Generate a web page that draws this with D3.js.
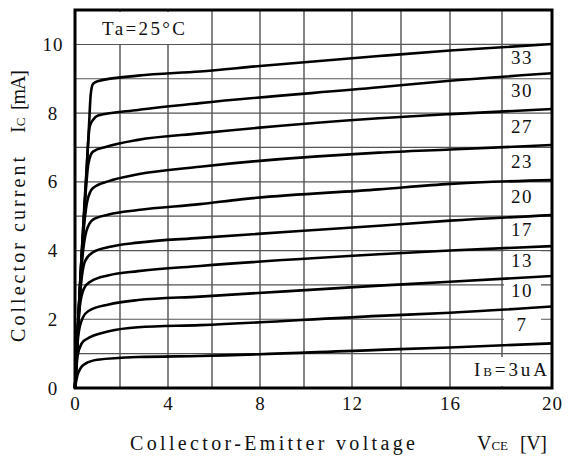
<!DOCTYPE html>
<html>
<head>
<meta charset="utf-8">
<script src="https://cdn.jsdelivr.net/npm/d3@7/dist/d3.min.js"></script>
<style>
  body { margin: 0; background: #fff; }
  svg text { font-family: "Liberation Serif", "DejaVu Serif", serif; fill: #111; }
</style>
</head>
<body>
<div id="graph"></div>
<script>
// base current of each curve [uA], bottom to top
var baseCurrents = [3, 7, 10, 13, 17, 20, 23, 27, 30, 33];

// [Vce (V), Ic (mA)]
var ib3  = [[0,0],[0.1,0.35],[0.25,0.58],[0.45,0.7],[1.0,0.82],[2.75,0.9],[5.45,0.93],[13.1,1.11],[16,1.18],[20,1.3]];
var ib7  = [[0,0],[0.12,0.95],[0.3,1.3],[0.5,1.42],[1.5,1.65],[2.75,1.77],[5.45,1.83],[13.1,2.1],[16,2.19],[20,2.37]];
var ib10 = [[0,0],[0.15,1.55],[0.35,2.05],[0.6,2.24],[1.5,2.43],[2.75,2.56],[5.45,2.66],[13.1,2.98],[16,3.09],[20,3.26]];
var ib13 = [[0,0],[0.2,2.3],[0.4,2.9],[0.7,3.1],[1.5,3.28],[2.75,3.4],[5.45,3.55],[13.1,3.89],[16,4.0],[20,4.13]];
var ib17 = [[0,0],[0.25,2.9],[0.45,3.7],[0.8,3.95],[1.5,4.1],[2.75,4.23],[5.45,4.37],[13.1,4.72],[16,4.87],[20,5.03]];
var ib20 = [[0,0],[0.3,3.6],[0.5,4.55],[0.8,4.9],[1.5,5.05],[2.75,5.18],[5.45,5.35],[7.2,5.49],[13.1,5.78],[16,5.94],[20,6.05]];
var ib23 = [[0,0],[0.36,4.4],[0.55,5.45],[0.8,5.82],[1.5,6.02],[2.75,6.22],[5.45,6.44],[13.1,6.85],[16,6.94],[20,7.07]];
var ib27 = [[0,0],[0.42,5.2],[0.6,6.55],[0.8,6.88],[1.4,7.02],[2.75,7.22],[5.45,7.41],[13.1,7.85],[16,7.97],[20,8.12]];
var ib30 = [[0,0],[0.5,6.2],[0.65,7.6],[0.8,7.8],[1.02,7.93],[2.75,8.09],[5.45,8.29],[13.1,8.75],[16,8.94],[20,9.16]];
var ib33 = [[0,0],[0.35,4.3],[0.62,7.6],[0.7,8.55],[0.8,8.85],[1.0,8.93],[2.75,9.09],[5.45,9.21],[8,9.37],[13.1,9.66],[16,9.82],[20,10.01]];

var curves = [ib3, ib7, ib10, ib13, ib17, ib20, ib23, ib27, ib30, ib33];

var xTicks = [0, 4, 8, 12, 16, 20]
  , yTicks = [0, 2, 4, 6, 8, 10]
  , xGrid  = [0, 2, 4, 6, 8, 10, 12, 14, 16, 18, 20]
  , yGrid  = [1, 2, 3, 4, 5, 6, 7, 8, 9, 10];

(function () {
  var W = 568, H = 458
    , left = 75, top = 10, right = 552, bottom = 388
    // the scanned grid is a little uneven, so x maps through each grid line
    , xStops = [75, 120, 168, 212, 260, 304, 352, 401, 450, 502, 552]
    , svg, x, y, plot, line, _box, _lastIc;

  svg = d3.select('#graph').append('svg')
    .attr('width', W)
    .attr('height', H);

  x = d3.scaleLinear().domain(xGrid).range(xStops);
  y = d3.scaleLinear().domain([0, 11]).range([bottom, top]);

  plot = svg.append('g');

  // grid
  plot.selectAll('line.gx')
    .data(xGrid.slice(1, -1))
    .enter().append('line')
      .attr('class', 'gx')
      .attr('x1', function (d) { return x(d); })
      .attr('x2', function (d) { return x(d); })
      .attr('y1', top)
      .attr('y2', bottom)
      .attr('stroke', '#333')
      .attr('stroke-width', 1.2);

  plot.selectAll('line.gy')
    .data(yGrid)
    .enter().append('line')
      .attr('class', 'gy')
      .attr('x1', left)
      .attr('x2', right)
      .attr('y1', function (d) { return y(d); })
      .attr('y2', function (d) { return y(d); })
      .attr('stroke', '#555')
      .attr('stroke-width', 1.2);

  _box = function (x0, y0, w, h) {
    plot.append('rect')
      .attr('x', x0).attr('y', y0)
      .attr('width', w).attr('height', h)
      .attr('fill', '#fff');
  };

  _lastIc = function (c) { return c[c.length - 1][1]; };

  // label positions: midway between a curve's end and the one below it
  var labelY = curves.map(function (c, i) {
    var below = i > 0 ? _lastIc(curves[i - 1]) : 0;
    return (y(_lastIc(c)) + y(below)) / 2 - 1;
  });

  // white patches behind the in-plot labels
  _box(77, 12, 123, 32);
  _box(470, 357, 80, 29);
  baseCurrents.forEach(function (ib, i) {
    if (i === 0) return;
    _box(504, labelY[i] - 9, 37, 18);
  });

  // curves
  line = d3.line()
    .x(function (d) { return x(d[0]); })
    .y(function (d) { return y(d[1]); })
    .curve(d3.curveMonotoneX);

  plot.selectAll('path.ic')
    .data(curves)
    .enter().append('path')
      .attr('class', 'ic')
      .attr('d', line)
      .attr('fill', 'none')
      .attr('stroke', '#000')
      .attr('stroke-width', 2.6)
      .attr('stroke-linejoin', 'round');

  // curve labels (bottom one is the IB=3uA note)
  plot.selectAll('text.ib')
    .data(baseCurrents.slice(1))
    .enter().append('text')
      .attr('class', 'ib')
      .attr('x', 522)
      .attr('y', function (d, i) { return labelY[i + 1]; })
      .attr('dy', '0.35em')
      .attr('text-anchor', 'middle')
      .attr('font-size', 19)
      .attr('letter-spacing', 1.5)
      .text(function (d) { return d; });

  var ibNote = plot.append('text')
    .attr('x', 474).attr('y', 376)
    .attr('font-size', 19)
    .attr('textLength', 73)
    .attr('lengthAdjust', 'spacing');
  ibNote.append('tspan').text('I');
  ibNote.append('tspan').attr('font-size', 13).text('B');
  ibNote.append('tspan').text('=' + baseCurrents[0] + 'uA');

  plot.append('text')
    .attr('x', 102).attr('y', 35)
    .attr('font-size', 19)
    .attr('textLength', 83)
    .attr('lengthAdjust', 'spacing')
    .text('Ta=25°C');

  // frame
  svg.append('rect')
    .attr('x', left).attr('y', top)
    .attr('width', right - left).attr('height', bottom - top)
    .attr('fill', 'none')
    .attr('stroke', '#000')
    .attr('stroke-width', 3);

  // axes labels
  var xAxis = svg.append('g')
    .attr('transform', 'translate(0,' + bottom + ')')
    .call(d3.axisBottom(x).tickValues(xTicks).tickSize(0).tickPadding(9));
  xAxis.select('.domain').remove();
  xAxis.selectAll('text')
    .attr('font-size', 19)
    .attr('letter-spacing', 1);

  var yAxis = svg.append('g')
    .attr('transform', 'translate(' + left + ',0)')
    .call(d3.axisLeft(y).tickValues(yTicks).tickSize(0));
  yAxis.select('.domain').remove();
  yAxis.selectAll('text')
    .attr('x', -22)
    .attr('text-anchor', 'middle')
    .attr('font-size', 19)
    .attr('letter-spacing', 1);
  xAxis.attr('font-family', null);
  yAxis.attr('font-family', null);

  // axis titles
  svg.append('text')
    .attr('x', 130).attr('y', 450)
    .attr('font-size', 20)
    .attr('textLength', 285)
    .attr('lengthAdjust', 'spacing')
    .text('Collector-Emitter voltage');
  var vce = svg.append('text')
    .attr('x', 477).attr('y', 450)
    .attr('font-size', 20);
  vce.append('tspan').text('V');
  vce.append('tspan').attr('font-size', 13).text('CE');
  svg.append('text')
    .attr('x', 520).attr('y', 450)
    .attr('font-size', 20)
    .attr('textLength', 27)
    .attr('lengthAdjust', 'spacing')
    .text('[V]');

  var yt = svg.append('g')
    .attr('transform', 'translate(25,0) rotate(-90)');
  yt.append('text')
    .attr('x', -342)
    .attr('font-size', 20)
    .attr('textLength', 185)
    .attr('lengthAdjust', 'spacing')
    .text('Collector current');
  var ic = yt.append('text')
    .attr('x', -133)
    .attr('font-size', 20);
  ic.append('tspan').text('I');
  ic.append('tspan').attr('font-size', 13).text('C');
  yt.append('text')
    .attr('x', -110)
    .attr('font-size', 20)
    .attr('textLength', 40)
    .attr('lengthAdjust', 'spacing')
    .text('[mA]');
})();
</script>
</body>
</html>
